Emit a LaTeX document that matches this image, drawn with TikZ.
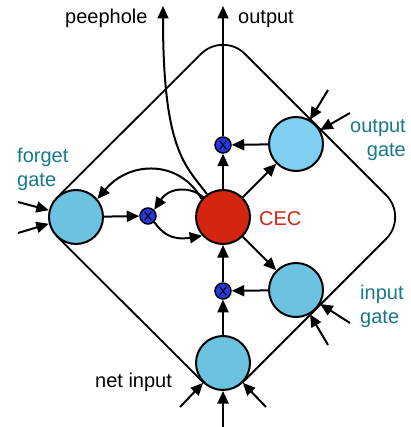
\documentclass[tikz,border=0pt]{standalone}
\usepackage{fontspec}
\setmainfont{Liberation Sans}
\usetikzlibrary{arrows.meta}
\definecolor{gateblue}{HTML}{6CC3E0}
\definecolor{gatelight}{HTML}{7ECFF1}
\definecolor{cecred}{HTML}{D42510}
\definecolor{multblue}{HTML}{2438E6}
\definecolor{tealtext}{HTML}{17798A}
\begin{document}
\begin{tikzpicture}[x=1pt,y=-1pt,
  gatenode/.style={circle,draw,line width=2pt,fill=gateblue,minimum size=54pt,inner sep=0pt},
  cecnode/.style={circle,draw,line width=2pt,fill=cecred,minimum size=54pt,inner sep=0pt},
  multnode/.style={circle,draw,line width=1.5pt,fill=multblue,minimum size=16pt,inner sep=0pt,
    path picture={\draw[line width=1.1pt]
      ([xshift=-3.3pt,yshift=4.3pt]path picture bounding box.center) -- ([xshift=3.3pt,yshift=-4.3pt]path picture bounding box.center)
      ([xshift=-3.3pt,yshift=-4.3pt]path picture bounding box.center) -- ([xshift=3.3pt,yshift=4.3pt]path picture bounding box.center);}},
  conn/.style={-{Triangle[length=12.5pt,width=11pt]},line width=2pt},
  lbl/.style={font=\fontsize{20}{24}\selectfont,inner sep=0pt},
  tlbl/.style={lbl,text=tealtext}
]
\useasboundingbox (0,0) rectangle (410,427);
% outer rounded diamond
\draw[line width=1.8pt,rounded corners=31pt] (37.5,217) -- (223,32) -- (408,217) -- (223,402) -- cycle;
% nodes
\node[cecnode] (cec) at (223,217) {};
\node[gatenode] (fg) at (76,217) {};
\node[gatenode,fill=gatelight] (og) at (296,144) {};
\node[gatenode] (ig) at (296,290) {};
\node[gatenode] (ni) at (223,363) {};
\node[multnode] (mf) at (148,216) {};
\node[multnode] (mo) at (223,145) {};
\node[multnode] (mi) at (223,291) {};
% free ends
\coordinate (outtip) at (223,6);
\coordinate (peeptip) at (163,6);
\coordinate (og1) at (328,90);
\coordinate (og2) at (350,113);
\coordinate (fg1) at (18,202);
\coordinate (fg2) at (18,233);
\coordinate (ig1) at (350,323);
\coordinate (ig2) at (328,345);
\coordinate (ni1) at (180,407);
\coordinate (ni2) at (223,427);
\coordinate (ni3) at (266,407);
% connectors
\draw[conn] (cec) -- (mo);
\draw[conn] (mo) -- (outtip);
\draw[conn] (cec.125) .. controls (185,165) and (163,150) .. (peeptip);
\draw[conn] (og) -- (mo);
\draw[conn] (cec.45) -- (og.225);
\draw[conn] (cec.-45) -- (ig.135);
\draw[conn] (ig) -- (mi);
\draw[conn] (ni) -- (mi);
\draw[conn] (mi) -- (cec);
\draw[conn] (fg) -- (mf);
\draw[conn] (cec.140) .. controls (180,160) and (130,160) .. (fg.40);
\draw[conn] (cec.135) .. controls (192,187) and (170,186) .. (mf.45);
\draw[conn] (mf.-45) .. controls (162,232) and (170,241) .. (cec.222);
% external inputs
\draw[conn] (og1) -- (og.60);
\draw[conn] (og2) -- (og.30);
\draw[conn] (fg1) -- (fg.166);
\draw[conn] (fg2) -- (fg.194);
\draw[conn] (ig1) -- (ig.-30);
\draw[conn] (ig2) -- (ig.-60);
\draw[conn] (ni1) -- (ni.-135);
\draw[conn] (ni2) -- (ni.south);
\draw[conn] (ni3) -- (ni.-45);
% labels
\node[lbl,anchor=base west] (lpeep) at (65,24) {peephole};
\node[lbl,anchor=base west] (lout) at (238,24) {output};
\node[tlbl,anchor=base east] (log1) at (406,133) {output};
\node[tlbl,anchor=base east] (log2) at (406,157) {gate};
\node[tlbl,anchor=base west] (lfg1) at (17,163) {forget};
\node[tlbl,anchor=base west] (lfg2) at (17,187) {gate};
\node[tlbl,anchor=base west] (lig1) at (360,299) {input};
\node[tlbl,anchor=base west] (lig2) at (360,323) {gate};
\node[lbl,anchor=base west,text=cecred] (lcec) at (259,225) {CEC};
\node[lbl,anchor=base west] (lni) at (95,387) {net input};
\end{tikzpicture}
\end{document}
